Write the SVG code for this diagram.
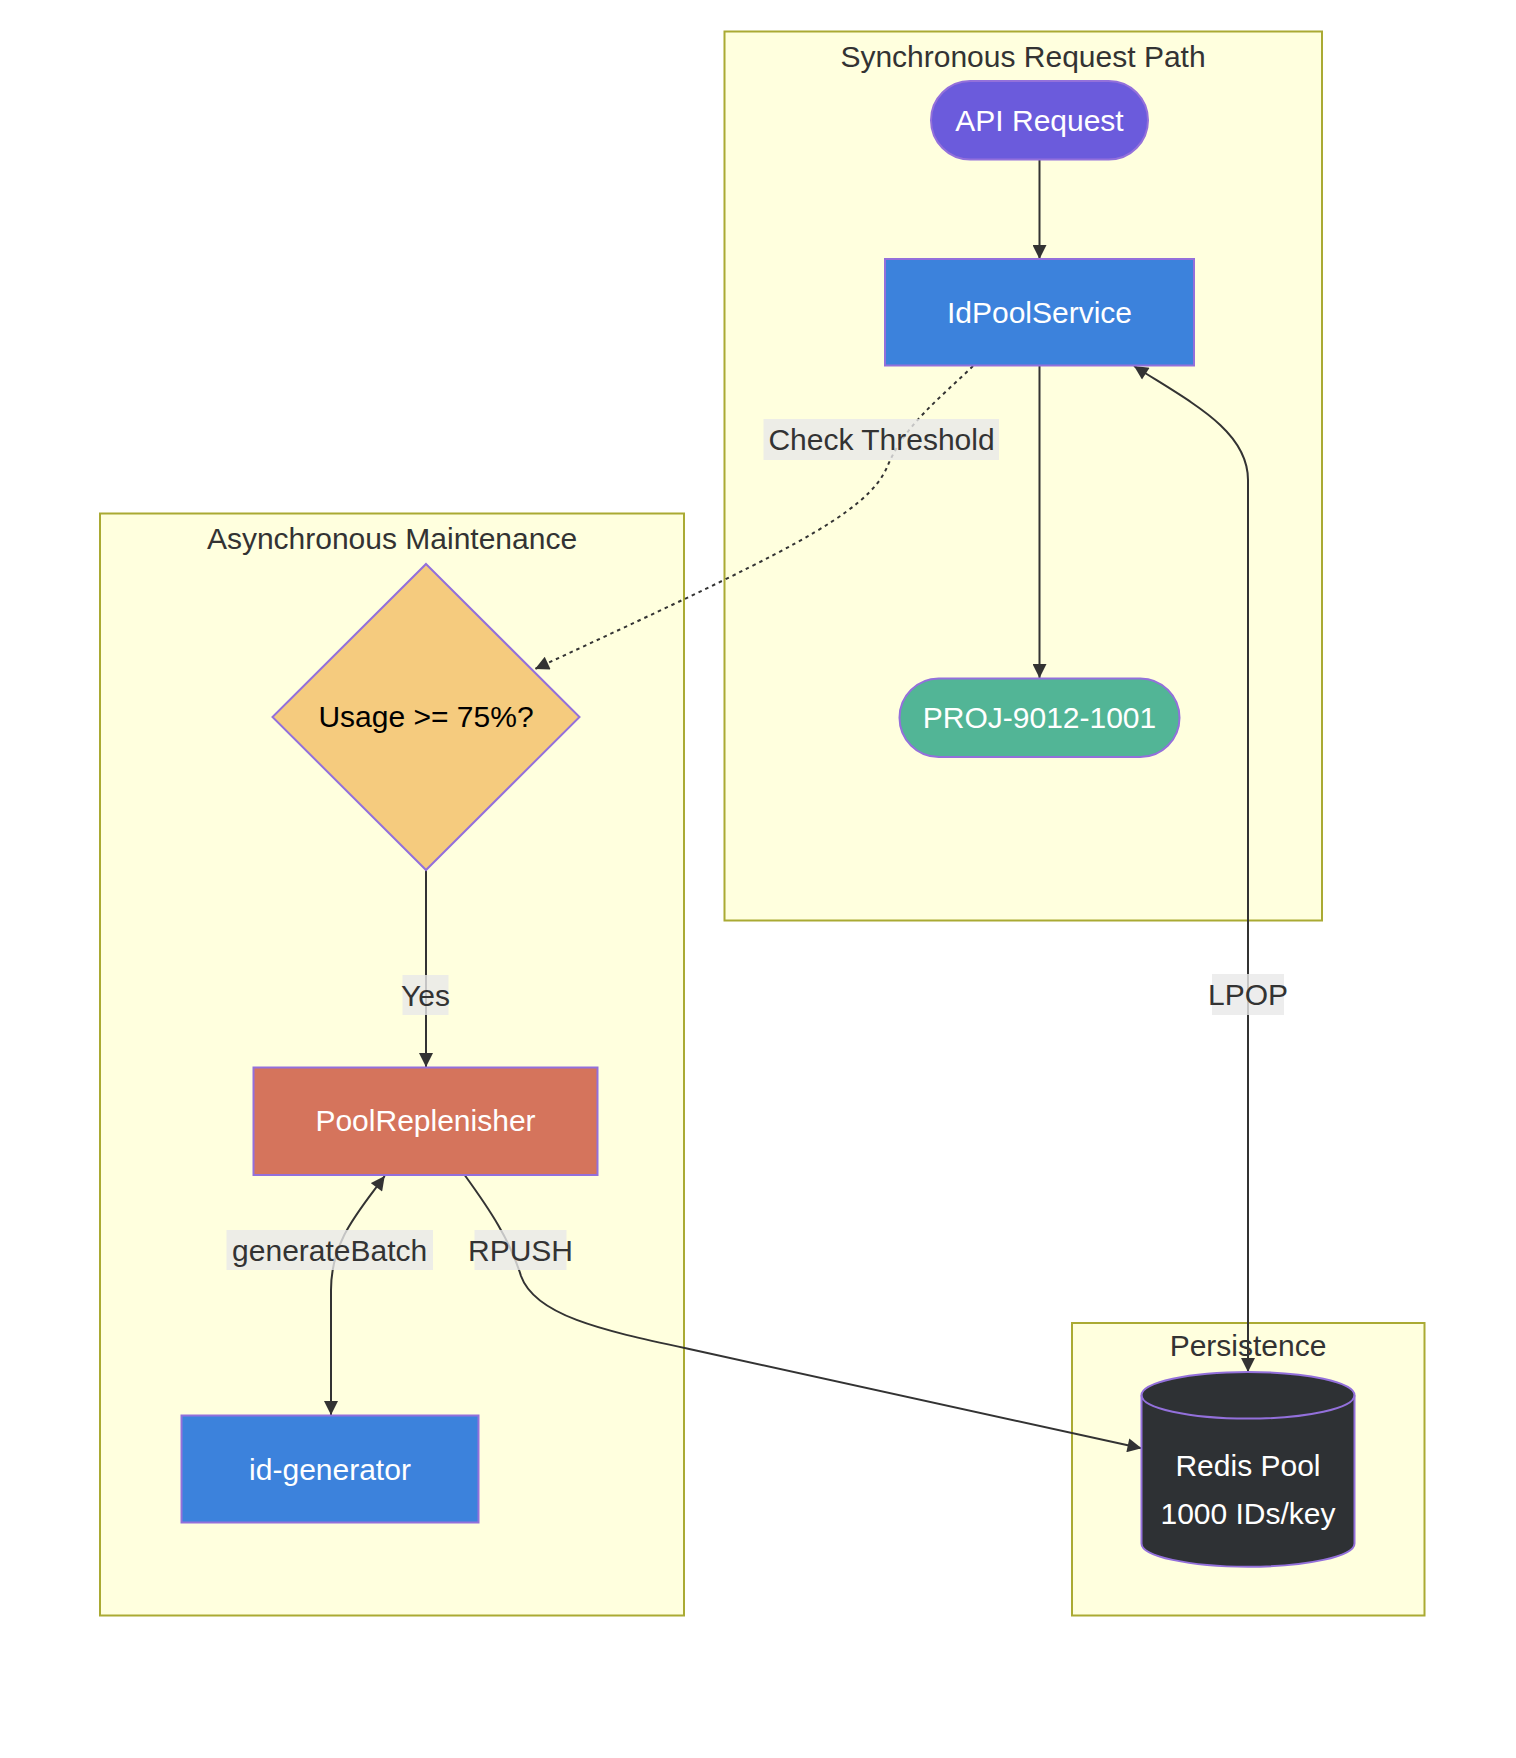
<svg xmlns="http://www.w3.org/2000/svg" width="1516" height="1758" viewBox="0 0 1516 1758">
<style>
text{font-family:"Liberation Sans",Arial,sans-serif;font-size:30px;text-anchor:middle;dominant-baseline:central}
.cluster{fill:#ffffde;stroke:#aaaa33;stroke-width:2}
.ctitle{fill:#333}
.node{stroke:#9370db;stroke-width:2}
.ntext{fill:#ffffff}
.edge{fill:none;stroke:#333;stroke-width:2}
.dotted{stroke-dasharray:3.5 4}
.lbg{fill:#e8e8e8;fill-opacity:0.8}
.ltext{fill:#333}
</style>
<defs>
<marker id="arrow" viewBox="0 0 10 10" refX="10" refY="5" markerWidth="15" markerHeight="14" markerUnits="userSpaceOnUse" orient="auto-start-reverse">
<path d="M0,0 L10,5 L0,10 z" fill="#333"/>
</marker>
</defs>
<rect width="1516" height="1758" fill="#ffffff"/>
<g id="cluster-sync">
<rect class="cluster" x="724.5" y="31.5" width="597.5" height="889"/>
<text class="ctitle" x="1023" y="56">Synchronous Request Path</text>
</g>
<g id="cluster-async">
<rect class="cluster" x="100" y="513.5" width="584" height="1102"/>
<text class="ctitle" x="392" y="538">Asynchronous Maintenance</text>
</g>
<g id="cluster-persistence">
<rect class="cluster" x="1072" y="1323" width="352.5" height="292.5"/>
<text class="ctitle" x="1248" y="1345.5">Persistence</text>
</g>
<g id="connectors">
<path class="edge" d="M1039.5,159.5 L1039.5,259" marker-end="url(#arrow)"/>
<path class="edge" d="M1039.5,365.5 L1039.5,678" marker-end="url(#arrow)"/>
<path class="edge dotted" d="M973,366 C940,398 905,425 888,465 C868,515 780,555 535,669" marker-end="url(#arrow)"/>
<path class="edge" d="M426,870 L426,1067" marker-end="url(#arrow)"/>
<path class="edge" d="M384.7,1176 C360,1210 331,1240 331,1290 L331,1415" marker-start="url(#arrow)" marker-end="url(#arrow)"/>
<path class="edge" d="M465,1175.5 C490,1210 510,1240 521,1276 C535,1315 600,1330 687,1348.5 L1141.5,1448.3" marker-end="url(#arrow)"/>
<path class="edge" d="M1134,366 C1190,402 1248,430 1248,480 L1248,1372" marker-start="url(#arrow)" marker-end="url(#arrow)"/>
<g id="label-check">
<rect class="lbg" x="763.5" y="419" width="235.5" height="41"/>
<text class="ltext" x="881.5" y="439.5">Check Threshold</text>
</g>
<g id="label-yes">
<rect class="lbg" x="402.5" y="975" width="46" height="40"/>
<text class="ltext" x="425.5" y="995">Yes</text>
</g>
<g id="label-generate">
<rect class="lbg" x="226.5" y="1230" width="206.5" height="40"/>
<text class="ltext" x="329.7" y="1250">generateBatch</text>
</g>
<g id="label-rpush">
<rect class="lbg" x="474.5" y="1230" width="92" height="40"/>
<text class="ltext" x="520.5" y="1250">RPUSH</text>
</g>
<g id="label-lpop">
<rect class="lbg" x="1212" y="974" width="72" height="41"/>
<text class="ltext" x="1248" y="994.5">LPOP</text>
</g>
</g>
<g id="node-api">
<rect class="node" x="931" y="81" width="217" height="78.5" rx="39.25" fill="#6b5bdc"/>
<text class="ntext" x="1039.5" y="120">API Request</text>
</g>
<g id="node-idpool">
<rect class="node" x="885" y="259" width="309" height="106.5" fill="#3c82dc"/>
<text class="ntext" x="1039.5" y="312">IdPoolService</text>
</g>
<g id="node-proj">
<rect class="node" x="899.5" y="678.5" width="280" height="78.5" rx="39.25" fill="#52b596"/>
<text class="ntext" x="1039.5" y="717.5">PROJ-9012-1001</text>
</g>
<g id="node-usage">
<polygon class="node" points="426,564 579.5,717 426,870 272.5,717" fill="#f5cb7e"/>
<text x="426" y="716.5" fill="#000000">Usage &gt;= 75%?</text>
</g>
<g id="node-replenisher">
<rect class="node" x="253.5" y="1067.5" width="344" height="107.5" fill="#d5745c"/>
<text class="ntext" x="425.5" y="1120.5">PoolReplenisher</text>
</g>
<g id="node-idgen">
<rect class="node" x="181.5" y="1415.5" width="297" height="107" fill="#3c82dc"/>
<text class="ntext" x="330" y="1469">id-generator</text>
</g>
<g id="node-redis">
<path class="node" fill="#2e3134" d="M1141.5,1395.3 A106.5,23.3 0 0 1 1354.5,1395.3 L1354.5,1543.4 A106.5,23.3 0 0 1 1141.5,1543.4 Z"/>
<path fill="none" stroke="#9370db" stroke-width="2" d="M1141.5,1395.3 A106.5,23.3 0 0 0 1354.5,1395.3"/>
<text class="ntext" x="1248" y="1465">Redis Pool</text>
<text class="ntext" x="1248" y="1513.5">1000 IDs/key</text>
</g>
</svg>
